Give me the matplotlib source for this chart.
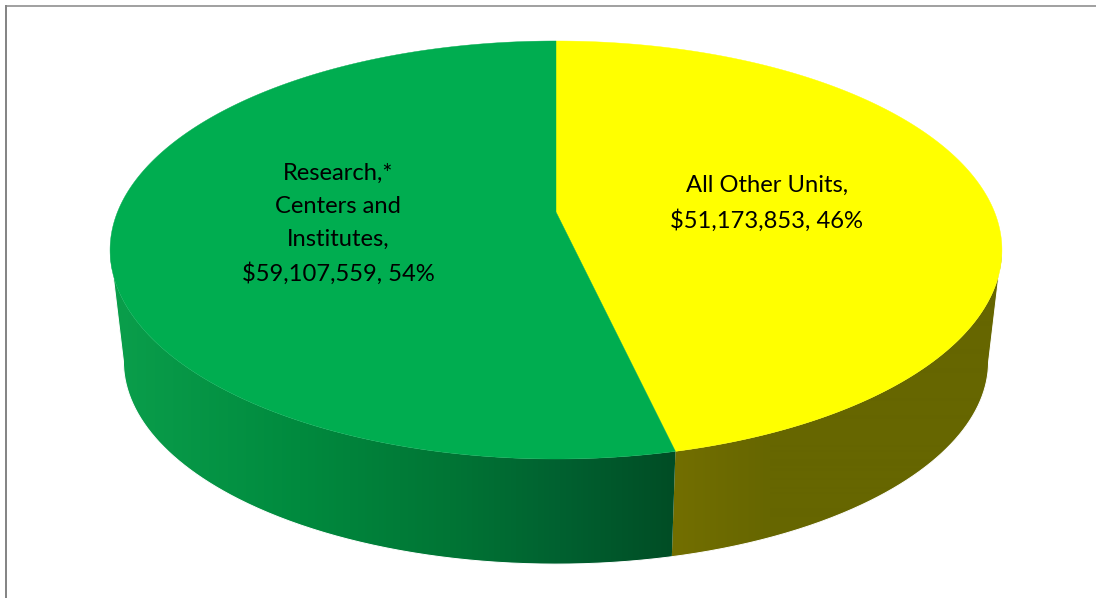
import numpy as np
import matplotlib
matplotlib.use('Agg')
import matplotlib.pyplot as plt
from matplotlib.colors import to_rgb
from matplotlib.patches import Polygon

plt.rcParams['font.family'] = ['Lato', 'DejaVu Sans']

# Data, clockwise from 12 o'clock
categories = ['All Other Units', 'Research,*\nCenters and\nInstitutes']
values = [51173853, 59107559]
top_colors = ['#ffff00', '#00ad50']

# side shading, (pixel x, colour) stops for each slice
side_stops = [
    [(672, '#736f00'), (770, '#666600'), (1000, '#666600')],
    [(118, '#0a9e4b'), (300, '#008a3e'), (450, '#007535'), (560, '#006130'), (672, '#004d25')],
]
label_pos = [(767, 203.5), (338, 224)]

# Perspective disc, pixel coordinates
cx, cy = 556, 212
rx, ry = 438.5, 202.1
k = 0.1818
# bottom rim is the same disc shrunk and moved down
bottom_scale = 0.97
bottom_cy = 324.5


def disc(t, center_y=cy, scale=1.0):
    # t is clockwise from the top of the pie
    u, v = np.sin(t), np.cos(t)
    w = 1 + k * v
    return cx + scale * rx * u / w, center_y - scale * ry * v / w


def gradient(stops, xs):
    sx = [s[0] for s in stops]
    rgb = np.array([to_rgb(s[1]) for s in stops])
    return np.stack([np.interp(xs, sx, rgb[:, i]) for i in range(3)], axis=-1)


fig = plt.figure(figsize=(10.96, 5.98), dpi=100)
ax = fig.add_axes([0, 0, 1, 1])

# chart frame, only top and left show
ax.plot([6, 6], [598, 5], color='#868686', lw=1.44, solid_capstyle='butt', zorder=1)
ax.plot([5, 1096], [5.7, 5.7], color='#868686', lw=1.1, solid_capstyle='butt', zorder=1)

shares = np.array(values) / sum(values)
edges = np.concatenate([[0], np.cumsum(shares)]) * 2 * np.pi

# only the front of the wall can be seen, from one widest point to the other
t_start = np.arccos(-k)
t_end = 2 * np.pi - t_start
xs = np.arange(0, 1096)

# side wall
for i in range(len(values)):
    ts = np.linspace(max(edges[i], t_start), min(edges[i + 1], t_end), 300)
    x1, y1 = disc(ts)
    x2, y2 = disc(ts[::-1], bottom_cy, bottom_scale)
    wall = Polygon(np.c_[np.r_[x1, x2], np.r_[y1, y2]], closed=True, transform=ax.transData,
                   facecolor='none', edgecolor='none')
    ax.add_patch(wall)
    img = ax.imshow(gradient(side_stops[i], xs)[np.newaxis, :, :], extent=(0, 1096, 598, 0),
                    aspect='auto', interpolation='bilinear', zorder=2)
    img.set_clip_path(wall)

# soften the clipped outer edge of the wall
ts = np.linspace(t_start, t_end, 600)
x_out, y_out = disc(ts, bottom_cy, bottom_scale)
x_top, y_top = disc(np.array([t_start, t_end]))
ax.plot(np.r_[x_top[0], x_out, x_top[1]], np.r_[y_top[0], y_out, y_top[1]], color='white', lw=0.7, zorder=2.5)

# top face
for i in range(len(values)):
    ts = np.linspace(edges[i], edges[i + 1], 400)
    x, y = disc(ts)
    ax.fill(np.r_[cx, x], np.r_[cy, y], facecolor=top_colors[i], edgecolor=top_colors[i], lw=0.3, zorder=3)

# labels
for name, val, share, pos in zip(categories, values, shares, label_pos):
    ax.text(pos[0], pos[1], f'{name},\n${val:,}, {share * 100:.0f}%', ha='center', va='center',
            fontsize=17.1, color='black', linespacing=1.68, zorder=4)

ax.set_xlim(0, 1096)
ax.set_ylim(598, 0)
ax.axis('off')

fig.savefig('out.png', dpi=100, facecolor='white')
